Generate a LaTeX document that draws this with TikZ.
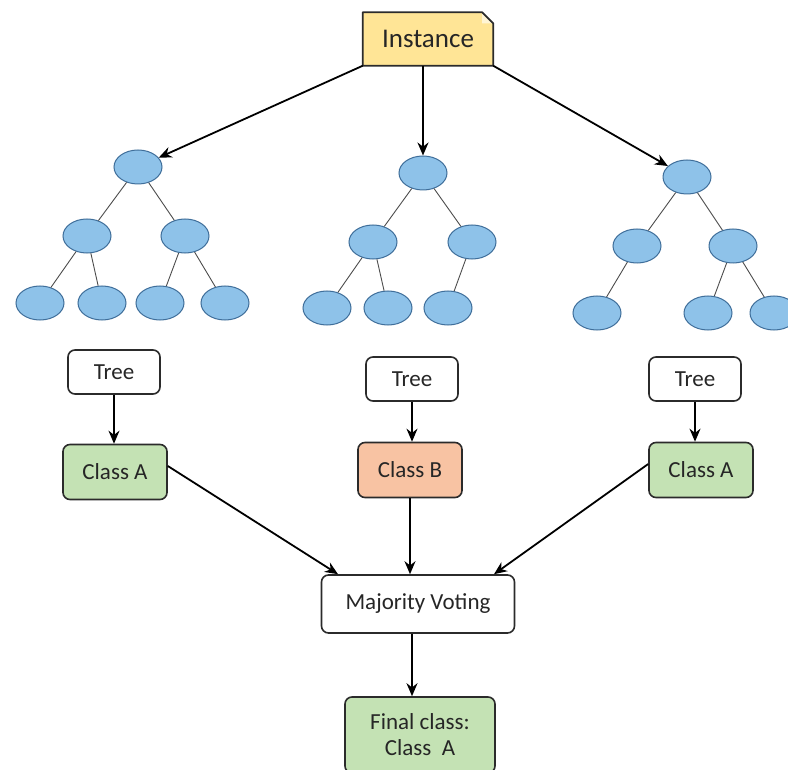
\documentclass[tikz,border=0pt]{standalone}
\usepackage{fontspec}
\setmainfont{Carlito}
\usetikzlibrary{shapes.geometric,arrows.meta}
\definecolor{leafblue}{HTML}{8EC2E9}
\definecolor{leafedge}{HTML}{3F6E9A}
\definecolor{goldfill}{HTML}{FFE596}
\definecolor{greenfill}{HTML}{C4E2B4}
\definecolor{salmonfill}{HTML}{F8C3A3}
\definecolor{boxedge}{HTML}{2B2B2B}
\definecolor{textgray}{HTML}{262626}
\tikzset{
  leaf/.style={ellipse, draw=leafedge, line width=1pt, fill=leafblue,
    minimum width=48pt, minimum height=34pt, inner sep=0pt},
  branch/.style={draw=black!70, line width=0.9pt},
  labelbox/.style={rectangle, rounded corners=7pt, draw=boxedge, line width=1.6pt,
    fill=white, font=\fontsize{23}{26}\selectfont, text=textgray, inner sep=0pt, align=center},
  treebox/.style={labelbox, minimum width=92pt, minimum height=44pt},
  classbox/.style={labelbox, minimum width=104pt, minimum height=55pt},
  flow/.style={draw=black, line width=1.8pt, -{Stealth[length=13pt,width=11pt]}},
}
\begin{document}
\begin{tikzpicture}[x=1pt,y=-1pt]
\useasboundingbox (0,0) rectangle (788,770);
\clip (0,0) rectangle (788,770);

% root card with a folded corner
\node[minimum width=130pt, minimum height=53pt, inner sep=0pt] (inst) at (428,39) {};
\fill[goldfill] (inst.north west) -- ([xshift=-11pt]inst.north east)
  -- ([yshift=-11pt]inst.north east) -- (inst.south east) -- (inst.south west) -- cycle;
\fill[white!60!goldfill] ([xshift=-11pt]inst.north east) -- ([yshift=-11pt]inst.north east)
  -- ([xshift=-11pt,yshift=-11pt]inst.north east) -- cycle;
\draw[boxedge, line width=1.8pt, line join=round] (inst.north west) -- ([xshift=-11pt]inst.north east)
  -- ([yshift=-11pt]inst.north east) -- (inst.south east) -- (inst.south west) -- cycle;
\node[font=\fontsize{27}{30}\selectfont, text=textgray] at (inst) {Instance};

% left tree
\node[leaf] (a0) at (138,167) {};
\node[leaf] (a1) at (87,236) {};
\node[leaf] (a2) at (185,236) {};
\node[leaf] (a3) at (40,303) {};
\node[leaf] (a4) at (102,303) {};
\node[leaf] (a5) at (160,303) {};
\node[leaf] (a6) at (225,303) {};
\draw[branch] (a0) -- (a1) (a0) -- (a2) (a1) -- (a3) (a1) -- (a4) (a2) -- (a5) (a2) -- (a6);

% middle tree
\node[leaf] (b0) at (423,173) {};
\node[leaf] (b1) at (373,242) {};
\node[leaf] (b2) at (472,242) {};
\node[leaf] (b3) at (327,308) {};
\node[leaf] (b4) at (388,308) {};
\node[leaf] (b5) at (448,308) {};
\draw[branch] (b0) -- (b1) (b0) -- (b2) (b1) -- (b3) (b1) -- (b4) (b2) -- (b5);

% right tree
\node[leaf] (c0) at (687,177) {};
\node[leaf] (c1) at (637,246) {};
\node[leaf] (c2) at (733,246) {};
\node[leaf] (c3) at (597,313) {};
\node[leaf] (c4) at (708,313) {};
\node[leaf] (c5) at (774,313) {};
\draw[branch] (c0) -- (c1) (c0) -- (c2) (c1) -- (c3) (c2) -- (c4) (c2) -- (c5);

% instance feeds each tree
\draw[flow] (inst.south west) -- (a0);
\draw[flow] (inst.south -| b0) -- (b0);
\draw[flow] (inst.south east) -- (c0);

% per-tree votes
\node[treebox] (t1) at (114,372) {Tree};
\node[treebox] (t2) at (412,379) {Tree};
\node[treebox] (t3) at (695,379) {Tree};
\node[classbox, fill=greenfill] (k1) at (115,472) {Class A};
\node[classbox, fill=salmonfill] (k2) at (410,470) {Class B};
\node[classbox, fill=greenfill] (k3) at (701,470) {Class A};
\draw[flow] (t1) -- (t1 |- k1.north);
\draw[flow] (t2) -- (t2 |- k2.north);
\draw[flow] (t3) -- (t3 |- k3.north);

% aggregation
\node[labelbox, minimum width=193pt, minimum height=58pt] (mv) at (418,604) {Majority Voting};
\node[labelbox, fill=greenfill, minimum width=150pt, minimum height=76pt] (fc) at (420,735) {Final class:\\Class\ \ A};
\coordinate (m1) at ([xshift=-80pt]mv.north);
\coordinate (m3) at ([xshift=76pt]mv.north);
\coordinate (mmid) at ([xshift=-6pt]mv.north);
\draw[flow] ([yshift=6pt]k1.east) -- (m1);
\draw[flow] (k2.south) -- (k2.south |- mmid);
\draw[flow] ([yshift=6pt]k3.west) -- (m3);
\draw[flow] (mv.south -| mmid) -- (mmid |- fc.north);
\end{tikzpicture}
\end{document}
